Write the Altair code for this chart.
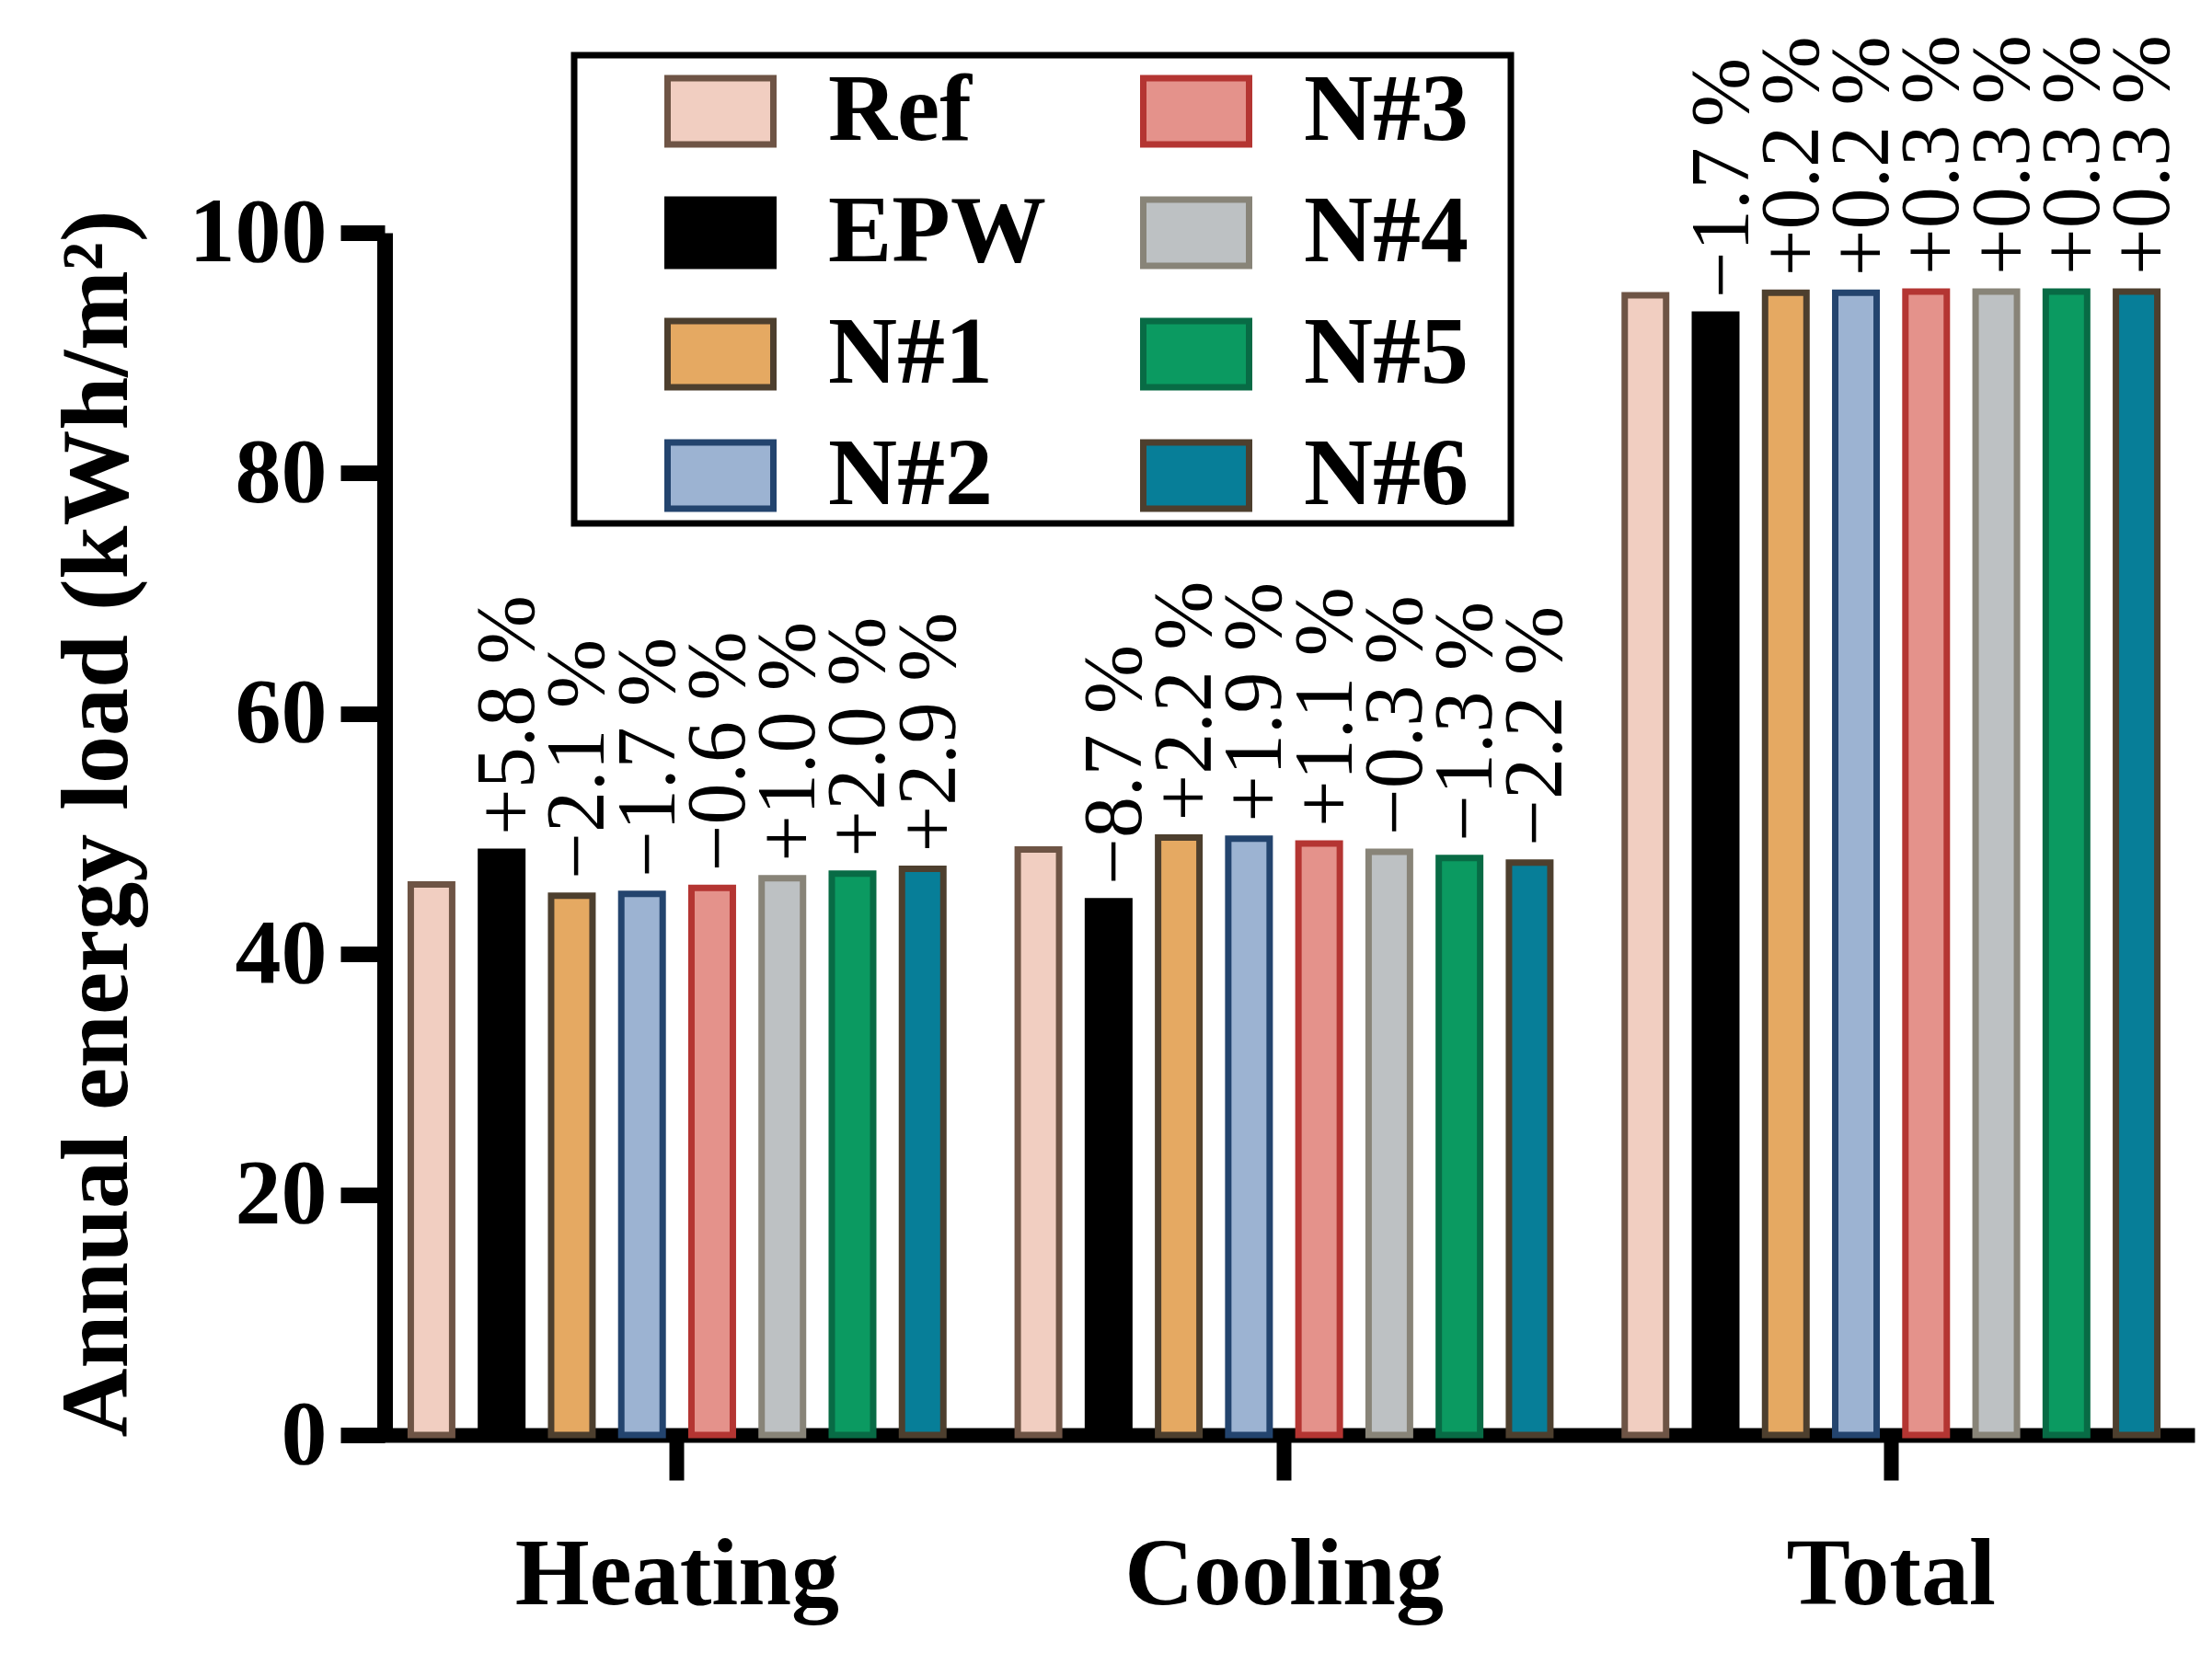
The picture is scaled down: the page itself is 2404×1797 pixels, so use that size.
import altair as alt
import pandas as pd

categories = ["Heating", "Cooling", "Total"]
series = ["Ref", "EPW", "N#1", "N#2", "N#3", "N#4", "N#5", "N#6"]

heating = [45.8, 48.5, 44.85, 45.0, 45.5, 46.3, 46.7, 47.1]
cooling = [48.7, 44.4, 49.7, 49.6, 49.2, 48.5, 48.0, 47.6]
total = [94.8, 93.2, 95.0, 95.0, 95.1, 95.1, 95.1, 95.1]

heating_labels = ["", "+5.8 %", "−2.1 %", "−1.7 %", "−0.6 %", "+1.0 %", "+2.0 %", "+2.9 %"]
cooling_labels = ["", "−8.7 %", "+2.2 %", "+1.9 %", "+1.1 %", "−0.3 %", "−1.3 %", "−2.2 %"]
total_labels = ["", "−1.7 %", "+0.2 %", "+0.2 %", "+0.3 %", "+0.3 %", "+0.3 %", "+0.3 %"]

fill_colors = ["#F1CEC1", "#000000", "#E5A962", "#9CB3D2", "#E4928B", "#BDC1C3", "#0B9A61", "#077E98"]
stroke_colors = ["#6E5445", "#000000", "#4D3F2E", "#23446E", "#B43532", "#888478", "#086B45", "#4D3F2E"]

rows = []
for cat, vals, labs in zip(categories, [heating, cooling, total],
                           [heating_labels, cooling_labels, total_labels]):
    for s, v, l in zip(series, vals, labs):
        rows.append({"Category": cat, "Series": s, "Value": v, "Label": l})
df = pd.DataFrame(rows)

FONT = "Liberation Serif"

rect_path = "M-1,-0.626L1,-0.626L1,0.626L-1,0.626Z"
legend = alt.Legend(
    title="\u00a0", titleOrient="right", titleFontSize=4, titlePadding=46,
    orient="none", legendX=218, legendY=-193, columns=2,
    symbolType=rect_path, symbolSize=13225, symbolStrokeWidth=7,
    labelFont=FONT, labelFontWeight="bold", labelFontSize=104, labelColor="black",
    labelOffset=56, labelLimit=600, rowPadding=19, columnPadding=4,
    padding=0, symbolOffset=98,
    strokeColor="black", fillColor="white", cornerRadius=0,
)

x_enc = alt.X(
    "Category:N", sort=categories,
    scale=alt.Scale(domain=categories, paddingInner=0, paddingOuter=0),
    axis=alt.Axis(
        title=None, labelAngle=0, domainWidth=16, domainColor="black",
        tickWidth=16, tickSize=49, tickColor="black",
        labelFont=FONT, labelFontWeight="bold", labelFontSize=104,
        labelColor="black", labelPadding=52, labelLimit=1000,
    ),
)
xo_enc = alt.XOffset(
    "Series:N", sort=series,
    scale=alt.Scale(domain=series, paddingInner=0.41, paddingOuter=0.53),
)
y_enc = alt.Y(
    "Value:Q",
    scale=alt.Scale(domain=[0, 100], nice=False, zero=True),
    axis=alt.Axis(
        values=[0, 20, 40, 60, 80, 100], grid=False, offset=-12,
        domainWidth=17, domainColor="black", tickWidth=17, tickSize=48,
        tickColor="black", labelFont=FONT, labelFontWeight="bold",
        labelFontSize=100, labelPadding=15, labelColor="black",
        labelFlush=False, labelOverlap=False,
        title="Annual energy load (kWh/m²)", titleFont=FONT,
        titleFontWeight="bold", titleFontSize=104, titleColor="black",
        titleX=-281, titleY=642, titleAngle=270, titleBaseline="alphabetic",
        titleAlign="center",
    ),
)

bars = alt.Chart(df).mark_bar(strokeWidth=7).encode(
    x=x_enc,
    xOffset=xo_enc,
    y=y_enc,
    fill=alt.Fill("Series:N",
                  scale=alt.Scale(domain=series, range=fill_colors),
                  legend=legend),
    stroke=alt.Stroke("Series:N",
                      scale=alt.Scale(domain=series, range=stroke_colors),
                      legend=legend),
)

labels = alt.Chart(df).transform_filter("datum.Label != ''").mark_text(
    angle=270, align="left", baseline="middle", dx=18, dy=8,
    font=FONT, fontSize=90, color="black",
).encode(
    x=alt.X("Category:N", sort=categories),
    xOffset=alt.XOffset("Series:N", sort=series),
    y=alt.Y("Value:Q"),
    text="Label:N",
)

chart = alt.layer(bars, labels).properties(
    width=1979, height=1307,
    background="white",
    autosize=alt.AutoSizeParams(type="none"),
    padding={"left": 398, "top": 245, "right": 11, "bottom": 229},
).configure_view(stroke=None).configure_legend(strokeWidth=7)

chart.save("out.html", embed_options={"renderer": "svg", "actions": False})
